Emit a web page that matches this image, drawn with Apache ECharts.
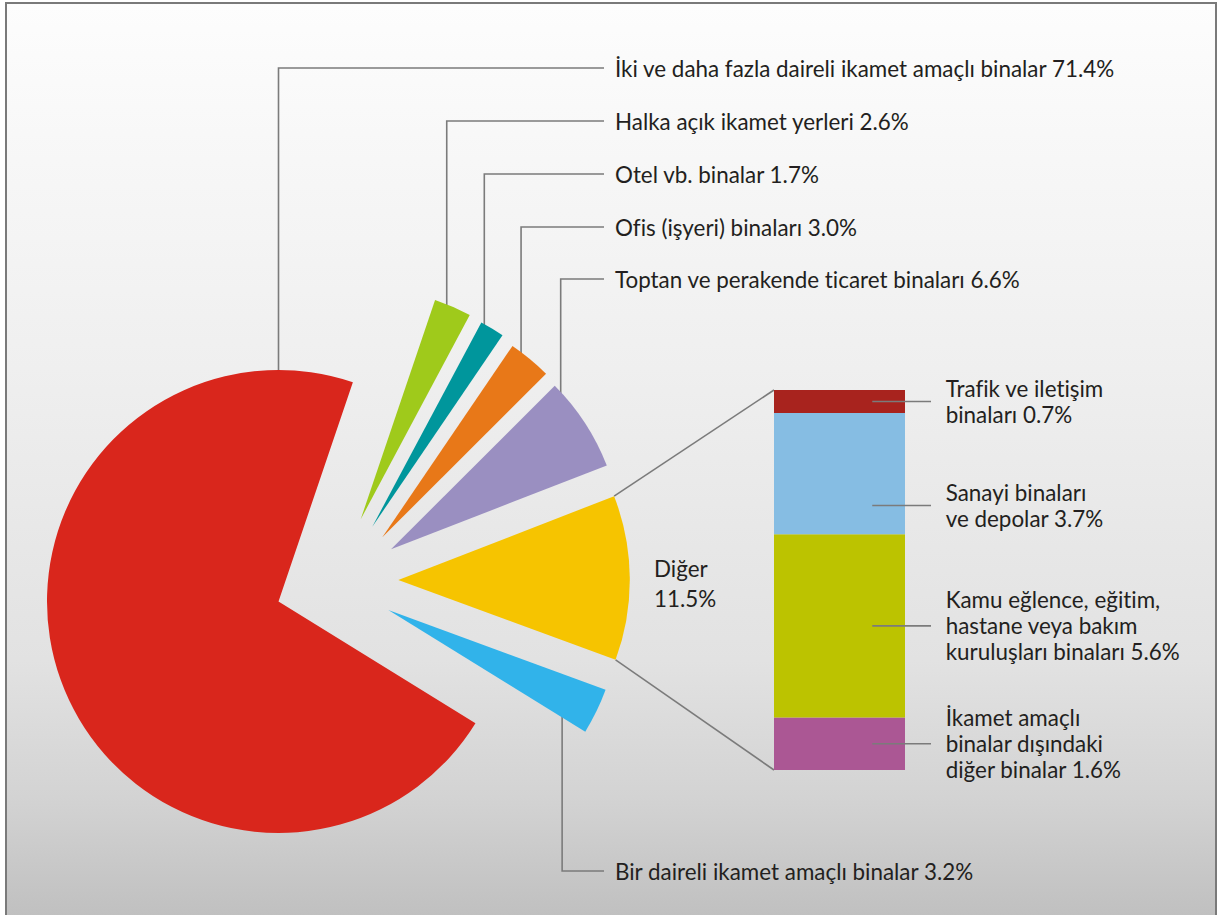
<!DOCTYPE html>
<html>
<head>
<meta charset="utf-8">
<script src="https://cdn.jsdelivr.net/npm/echarts@6/dist/echarts.min.js"></script>
<style>
html, body { margin: 0; padding: 0; background: #ffffff; }
#chart { width: 1217px; height: 915px; }
#chart text { font-variant-ligatures: none; font-feature-settings: "liga" 0; }
</style>
</head>
<body>
<div id="chart"></div>
<script>
// ---------------- DATA ----------------
const pieNames = [
  'İki ve daha fazla daireli ikamet amaçlı binalar',
  'Halka açık ikamet yerleri',
  'Otel vb. binalar',
  'Ofis (işyeri) binaları',
  'Toptan ve perakende ticaret binaları',
  'Diğer',
  'Bir daireli ikamet amaçlı binalar'
];
const pieValues = [71.4, 2.6, 1.7, 3.0, 6.6, 11.5, 3.2];
const pieColors = ['#d9261c', '#9fca1b', '#00969c', '#e87818', '#9a8fc1', '#f6c400', '#31b3ea'];

const barNames = [
  'Trafik ve iletişim\nbinaları',
  'Sanayi binaları\nve depolar',
  'Kamu eğlence, eğitim,\nhastane veya bakım\nkuruluşları binaları',
  'İkamet amaçlı\nbinalar dışındaki\ndiğer binalar'
];
const barValues = [0.7, 3.7, 5.6, 1.6];
const barColors = ['#a8231e', '#86bde3', '#bcc300', '#ab5794'];
const barCategory = ['Diğer'];

// ---------------- LAYOUT ----------------
const FONT = 'Lato';
const FS = 22.4;
const TXT = '#231f20';
const LINE = '#7b7b7b';
const R = 231.5;
const START = 328.3;
const sliceCenters = [[278.5, 601.5], [360.7, 519.3], [372.3, 526.7], [382.3, 537.3], [391, 549.3], [398.3, 580], [388.3, 610]];
const labelY = [68, 121, 174, 227, 279, 583, 871];
const leaderAngle = [90, null, null, null, null, null, null];
const leaderR = [0.85, 0.935, 0.935, 0.94, 0.875, 0, 0.835];
const LABEL_X = 615, LINE_END_X = 604;
const OTHER_LABEL_X = 654;
const GRID = { left: 774, top: 390, width: 131, height: 380 };
const barLabelDy = [0, 32, 0, 0];

const total = pieValues.reduce((a, b) => a + b, 0);
const startA = [], endA = [];
(function () {
  let acc = 0;
  pieValues.forEach(v => {
    startA.push(START - acc / total * 360);
    acc += v;
    endA.push(START - acc / total * 360);
  });
})();
const fmt = v => v.toFixed(1) + '%';

function pieSeries(k) {
  const isOther = k === 5;
  return {
    type: 'pie',
    silent: true,
    animation: false,
    center: sliceCenters[k],
    radius: [0, R],
    startAngle: START,
    clockwise: true,
    avoidLabelOverlap: false,
    emphasis: { disabled: true },
    itemStyle: { borderWidth: 0 },
    label: {
      show: true,
      color: TXT,
      fontFamily: FONT,
      fontSize: FS,
      lineHeight: isOther ? 30 : 26,
      formatter: p => isOther ? p.name + '\n' + fmt(p.value) : p.name + ' ' + fmt(p.value)
    },
    labelLine: { show: !isOther, smooth: false, lineStyle: { color: LINE, width: 1.6 } },
    labelLayout: function (p) {
      if (p.dataIndex !== k) return {};
      if (isOther) {
        return { x: OTHER_LABEL_X, y: labelY[k], align: 'left', verticalAlign: 'middle' };
      }
      const angDeg = leaderAngle[k] != null ? leaderAngle[k] : (startA[k] + endA[k]) / 2;
      const a = angDeg * Math.PI / 180;
      const c = sliceCenters[k];
      const sx = c[0] + leaderR[k] * R * Math.cos(a);
      const sy = c[1] - leaderR[k] * R * Math.sin(a);
      return {
        x: LABEL_X, y: labelY[k], align: 'left', verticalAlign: 'middle',
        labelLinePoints: [[sx, sy], [sx, labelY[k]], [LINE_END_X, labelY[k]]]
      };
    },
    data: pieValues.map((v, j) => ({
      name: pieNames[j],
      value: v,
      itemStyle: { color: j === k ? pieColors[j] : 'rgba(0,0,0,0)' },
      label: { show: j === k },
      labelLine: { show: j === k && !isOther }
    }))
  };
}

const series = [];
for (let k = 0; k < pieValues.length; k++) series.push(pieSeries(k));
// stacked bar: bottom segment first
for (let i = barValues.length - 1; i >= 0; i--) {
  series.push({
    type: 'bar',
    stack: 'other',
    silent: true,
    animation: false,
    barWidth: '100%',
    data: [barValues[i]],
    itemStyle: { color: barColors[i] },
    label: {
      show: true,
      position: ['100%', '50%'],
      offset: [40.7, barLabelDy[i]],
      align: 'left',
      verticalAlign: 'middle',
      color: TXT,
      fontFamily: FONT,
      fontSize: FS,
      lineHeight: 26,
      formatter: () => barNames[i] + ' ' + fmt(barValues[i])
    }
  });
}

const chart = echarts.init(document.getElementById('chart'), null, { renderer: 'svg' });
const bg = {
  type: 'rect', z: -10, silent: true,
  shape: { x: 6, y: 3, width: 1210, height: 913 },
  style: {
    fill: {
      type: 'linear', x: 0, y: 0, x2: 0, y2: 1,
      colorStops: [
        { offset: 0, color: '#fdfdfd' },
        { offset: 0.4, color: '#efefef' },
        { offset: 0.72, color: '#e2e2e2' },
        { offset: 0.87, color: '#d3d3d3' },
        { offset: 1, color: '#c0c0c0' }
      ]
    },
    stroke: '#7a7a7a', lineWidth: 2
  }
};
chart.setOption({
  animation: false,
  backgroundColor: '#ffffff',
  grid: GRID,
  xAxis: { type: 'category', data: barCategory, show: false },
  yAxis: { type: 'value', min: 0, max: barValues.reduce((a, b) => a + b, 0), show: false },
  graphic: [bg],
  series: series
});

// leader and connector lines computed through the library's scales
(function () {
  const els = [bg];
  const barSum = barValues.reduce((a, b) => a + b, 0);
  const xc = chart.convertToPixel({ xAxisIndex: 0 }, barCategory[0]);
  const barLeft = xc - GRID.width / 2;
  const barRight = xc + GRID.width / 2;
  let acc = 0;
  for (let i = barValues.length - 1; i >= 0; i--) {
    const mid = acc + barValues[i] / 2;
    acc += barValues[i];
    const y = chart.convertToPixel({ yAxisIndex: 0 }, mid) + barLabelDy[i];
    els.push({
      type: 'line', z: 20, silent: true,
      shape: { x1: barLeft + GRID.width * 0.75, y1: y, x2: barRight + 26, y2: y },
      style: { stroke: LINE, lineWidth: 1.6 }
    });
  }
  const k = 5, c = sliceCenters[k];
  const a1 = startA[k] * Math.PI / 180, a2 = endA[k] * Math.PI / 180;
  const yTop = chart.convertToPixel({ yAxisIndex: 0 }, barSum);
  const yBot = chart.convertToPixel({ yAxisIndex: 0 }, 0);
  els.push({
    type: 'line', z: 1, silent: true,
    shape: { x1: c[0] + R * Math.cos(a1), y1: c[1] - R * Math.sin(a1), x2: barLeft, y2: yTop },
    style: { stroke: LINE, lineWidth: 1.6 }
  });
  els.push({
    type: 'line', z: 1, silent: true,
    shape: { x1: c[0] + R * Math.cos(a2), y1: c[1] - R * Math.sin(a2), x2: barLeft, y2: yBot },
    style: { stroke: LINE, lineWidth: 1.6 }
  });
  chart.setOption({ graphic: els }, { replaceMerge: ['graphic'] });
})();
</script>
</body>
</html>
